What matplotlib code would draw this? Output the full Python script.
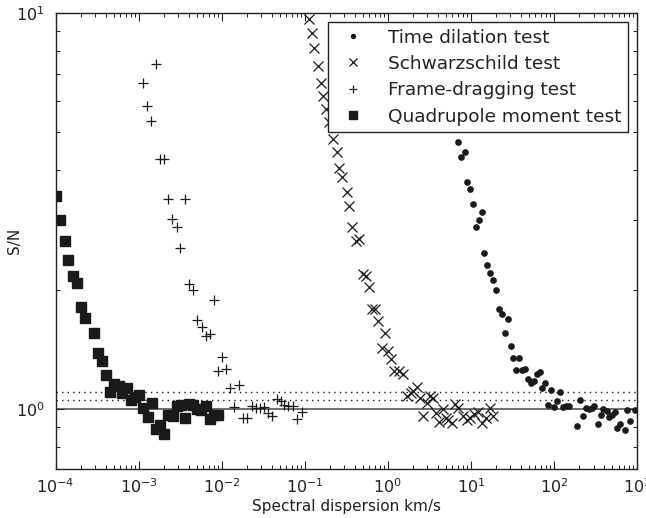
import numpy as np
import matplotlib
matplotlib.use("Agg")
import matplotlib.pyplot as plt

# Time dilation test (dots)
time_x = [7.03, 8.4, 7.64, 8.96, 9.73, 10.6, 13.5, 12.4, 11.5, 14.6, 15.7, 17.1, 18.5, 20.0,
          21.7, 23.6, 27.7, 25.6, 30.1, 32.3, 38.1, 35.1, 41.1, 44.7, 48.5, 52.8, 57.3, 62.8,
          68.3, 79.2, 72.8, 92.5, 118, 85.2, 99.8, 108, 127, 139, 150, 192, 205, 225, 242,
          263, 286, 308, 335, 364, 391, 430, 462, 502, 541, 576, 621, 713, 760, 819, 942]
time_y = [4.72, 4.45, 4.32, 3.73, 3.59, 3.29, 3.14, 3.0, 2.87, 2.47, 2.31, 2.20, 2.11, 2.0,
          1.785, 1.738, 1.687, 1.553, 1.44, 1.342, 1.342, 1.254, 1.249, 1.26, 1.188, 1.161, 1.172, 1.226,
          1.235, 1.161, 1.128, 1.112, 1.104, 1.023, 1.01, 1.043, 1.01, 1.013, 1.013, 0.906, 1.054, 0.96, 1.002,
          1.0, 1.004, 1.018, 0.917, 0.966, 0.998, 0.988, 0.951, 0.966, 0.979, 0.894, 0.917, 0.882, 0.994, 0.929, 0.994]

# Schwarzschild test (x)
schw_x = [0.112, 0.121, 0.129, 0.143, 0.158, 0.167, 0.18, 0.195, 0.217, 0.242, 0.26, 0.283, 0.319,
          0.343, 0.373, 0.413, 0.449, 0.506, 0.54, 0.593, 0.638, 0.7, 0.766, 0.923, 0.842, 0.995,
          1.08, 1.19, 1.36, 1.53, 1.71, 1.88, 2.02, 2.22, 2.43, 2.67, 2.93, 3.21, 3.46, 3.79, 4.16,
          4.56, 5.0, 5.33, 5.86, 6.42, 7.04, 7.94, 8.87, 9.72, 10.9, 12.2, 13.8, 15.2, 16.9, 18.6]
schw_y = [9.66, 8.89, 8.17, 7.36, 6.67, 6.18, 5.71, 5.31, 4.80, 4.46, 4.05, 3.86, 3.52,
          3.26, 2.87, 2.66, 2.68, 2.19, 2.17, 2.03, 1.785, 1.785, 1.667, 1.553, 1.42, 1.40,
          1.337, 1.242, 1.242, 1.226, 1.079, 1.095, 1.106, 1.132, 1.064, 0.956, 1.034, 1.074, 1.064, 0.975, 0.924,
          0.998, 0.947, 0.934, 0.920, 1.029, 1.004, 0.956, 0.938, 0.947, 0.971, 0.979, 0.92, 0.947, 1.004, 0.956]

# Frame-dragging test (+)
frame_x = [1.61e-3, 1.14e-3, 1.27e-3, 1.42e-3, 1.81e-3, 2.02e-3, 2.28e-3, 3.61e-3, 2.55e-3, 2.87e-3,
           3.18e-3, 4.0e-3, 4.56e-3, 8.07e-3, 5.08e-3, 5.74e-3, 6.47e-3, 7.23e-3, 1.02e-2, 8.95e-3,
           1.14e-2, 1.27e-2, 1.61e-2, 1.42e-2, 1.82e-2, 2.03e-2, 2.3e-2, 2.57e-2, 2.89e-2, 3.23e-2,
           3.64e-2, 4.06e-2, 4.59e-2, 5.13e-2, 5.66e-2, 6.33e-2, 7.15e-2, 7.98e-2, 9.18e-2]
frame_y = [7.43, 6.65, 5.83, 5.34, 4.28, 4.28, 3.39, 3.39, 3.02, 2.87,
           2.54, 2.06, 1.99, 1.88, 1.68, 1.61, 1.53, 1.54, 1.35, 1.247,
           1.262, 1.125, 1.15, 1.008, 0.945, 0.945, 1.013, 1.004, 1.004, 1.008,
           0.975, 0.96, 1.058, 1.043, 1.023, 1.013, 1.018, 0.942, 0.981]

# Quadrupole moment test (squares)
quad_x = [1.0e-4, 1.13e-4, 1.29e-4, 1.43e-4, 1.61e-4, 1.81e-4, 2.03e-4, 2.26e-4, 2.88e-4, 3.21e-4,
          3.6e-4, 4.02e-4, 5.1e-4, 4.53e-4, 5.8e-4, 6.37e-4, 7.19e-4, 8.1e-4, 9.05e-4, 1.02e-3,
          1.13e-3, 1.29e-3, 1.44e-3, 1.62e-3, 1.81e-3, 2.02e-3, 2.28e-3, 2.57e-3, 2.87e-3, 3.24e-3,
          3.61e-3, 4.04e-3, 4.55e-3, 5.08e-3, 5.69e-3, 6.41e-3, 7.23e-3, 8.07e-3, 9.1e-3]
quad_y = [3.45, 3.0, 2.65, 2.37, 2.17, 2.08, 1.81, 1.70, 1.55, 1.38,
          1.32, 1.22, 1.157, 1.104, 1.138, 1.095, 1.13, 1.05, 1.068, 1.085,
          1.004, 0.951, 1.031, 0.889, 0.908, 0.863, 0.966, 0.956, 1.013, 1.023,
          0.947, 1.028, 1.023, 1.0, 0.994, 1.013, 0.942, 0.966, 0.962]

ref_level = 1.0
dotted_levels = [1.05, 1.1]

plt.rcParams["font.family"] = "DejaVu Sans"
plt.rcParams["xtick.direction"] = "in"
plt.rcParams["ytick.direction"] = "in"
plt.rcParams["xtick.top"] = True
plt.rcParams["ytick.right"] = True

fig = plt.figure(figsize=(6.46, 5.18), dpi=100)
ax = fig.add_axes([0.086, 0.095, 0.9, 0.88])

ink = "#1a1a1a"
ax.axhline(ref_level, color="#555555", lw=1.2, zorder=1)
for lvl in dotted_levels:
    ax.axhline(lvl, color=ink, lw=1.0, ls=(0, (1, 3)), zorder=1)

ax.plot(time_x, time_y, ls="none", marker="o", ms=3.8, color=ink, mec=ink, label="Time dilation test")
ax.plot(schw_x, schw_y, ls="none", marker="x", ms=7, mew=0.9, color=ink, label="Schwarzschild test")
ax.plot(frame_x, frame_y, ls="none", marker="+", ms=7, mew=0.9, color=ink, label="Frame-dragging test")
ax.plot(quad_x, quad_y, ls="none", marker="s", ms=7.5, color=ink, mec=ink, label="Quadrupole moment test")

ax.set_xscale("log")
ax.set_yscale("log")
ax.set_xlim(1e-4, 1e3)
ax.set_ylim(0.705, 10)

ax.tick_params(which="major", length=6, width=0.8, labelsize=11.5, colors="#222222")
ax.tick_params(which="minor", length=3, width=0.6)
ax.tick_params(axis="x", pad=6)
ax.tick_params(axis="y", pad=8)
ax.yaxis.set_minor_formatter(matplotlib.ticker.NullFormatter())
for s in ax.spines.values():
    s.set_linewidth(1.0)
    s.set_color("#222222")

ax.set_xlabel("Spectral dispersion km/s", fontsize=11, color="#222222", labelpad=2)
ax.set_ylabel("S/N", fontsize=11, color="#222222")
ax.yaxis.set_label_coords(-0.057, 0.5)

leg = ax.legend(loc="upper right", fontsize=13.3, numpoints=1, markerscale=0.75,
                fancybox=False, framealpha=1, edgecolor="#222222",
                borderpad=0.35, labelspacing=0.45, handletextpad=0.9, borderaxespad=0.5)
leg.get_frame().set_linewidth(1.0)
for t in leg.get_texts():
    t.set_color("#222222")

fig.savefig("out.png", dpi=100)
